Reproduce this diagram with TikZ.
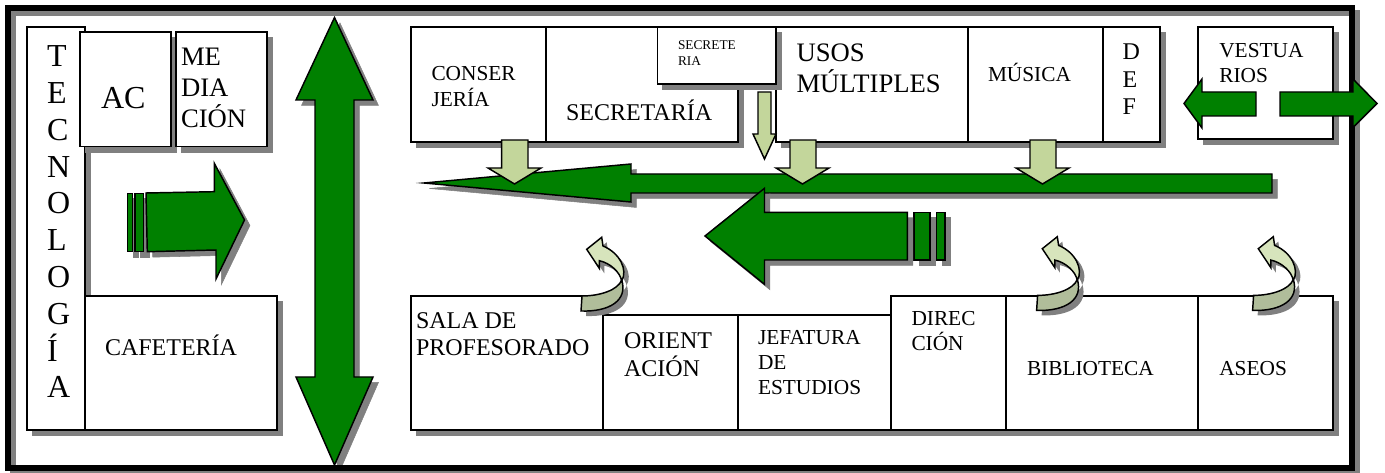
\documentclass[tikz,border=0pt]{standalone}
\usepackage{fontspec}
\setmainfont{Liberation Serif}
\usetikzlibrary{shadows}
\definecolor{shadowgray}{HTML}{808080}
\definecolor{darkgreen}{HTML}{008000}
\definecolor{palegreen}{HTML}{C3D69B}
\definecolor{curllight}{HTML}{D7E4BC}
\definecolor{curldark}{HTML}{B0BD9A}
\tikzset{
  dropshadow/.style={copy shadow={shadow xshift=4.1pt,shadow yshift=-4.1pt,fill=shadowgray,draw=shadowgray,opacity=1}},
  roombox/.style={draw=black,fill=white,line width=1.1pt,inner sep=0pt,outer sep=0pt,dropshadow},
  framebox/.style={draw=black,line width=4.5pt,inner sep=0pt,outer sep=0pt},
  greenarrow/.style={draw=black,fill=darkgreen,line width=1.1pt,miter limit=12,dropshadow},
  stripe/.style={draw=black,fill=darkgreen,line width=1.1pt,dropshadow},
  palearrow/.style={draw=black,fill=palegreen,line width=1.1pt},
  label/.style={inner sep=0pt,outer sep=0pt,anchor=base west,text=black}
}
\newcommand{\room}[5]{\node[roombox,minimum width=#4*0.75pt-#2*0.75pt,minimum height=#5*0.75pt-#3*0.75pt] (#1) at ({(#2+#4)/2},{(#3+#5)/2}) {};}
% name, x, first baseline, size pt, leading pt, lines
\newcommand{\lab}[6]{\node[label] (#1) at (#2,#3) {\vtop{\fontsize{#4}{#5}\selectfont\baselineskip=#5pt #6}};}
\newcommand{\dn}[4]{\draw[palearrow] (#1,140)--(#2,140)--(#2,168)--(#4,168)--({(#3+#4)/2},184)--(#3,168)--(#1,168)--cycle;}
\newcommand{\curl}[2]{%
  \begin{scope}[shift={(#1,#2)}]
    \fill[shadowgray,shift={(5,5)}] (601.7,237.3)--(586.7,249.3)--(599.3,268.3)--(599.3,260.7) .. controls (610,263) and (620,272) .. (621.7,281) .. controls (618,290) and (600,296) .. (582,296)--(581,311) .. controls (610,312) and (628,300) .. (621.7,280) .. controls (628,270) and (620,253) .. (603,246)--cycle;
    \draw[draw=black,fill=curldark,line width=1.1pt] (621.7,280) .. controls (618,290) and (600,296) .. (582,296)--(581,311) .. controls (610,312) and (628,300) .. (621.7,280)--cycle;
    \draw[draw=black,fill=curllight,line width=1.1pt] (601.7,237.3)--(586.7,249.3)--(599.3,268.3)--(599.3,260.7) .. controls (610,263) and (620,272) .. (621.7,281) .. controls (628,270) and (620,253) .. (603,246)--cycle;
  \end{scope}}
\begin{document}
\begin{tikzpicture}[x=0.75pt,y=-0.75pt]
\useasboundingbox (0,0) rectangle (1385,473);
% vertical double arrow (under the frame)
\draw[greenarrow] (334.5,17.5)--(373,100)--(354,100)--(354,377)--(373,377)--(334.5,465)--(296,377)--(315,377)--(315,100)--(296,100)--cycle;
% frame
\node[framebox,draw=shadowgray,minimum width=1344*0.75pt,minimum height=460*0.75pt] (frameshade) at (685,243) {};
\node[framebox,minimum width=1344*0.75pt,minimum height=460*0.75pt] (frame) at (680,238) {};
% rooms left
\room{tecno}{27}{27}{85}{430}
\room{ac}{80}{32}{171}{146.5}
\room{media}{176}{32}{267}{146.5}
\room{cafe}{85}{296}{277}{430}
% top row
\room{conser}{411}{27}{546}{142}
\room{secret}{546}{27}{738}{142}
\room{usos}{776}{27}{968}{142}
\room{musica}{968}{27}{1103}{142}
\room{def}{1103}{27}{1160}{142}
\room{secrete}{657.5}{27}{776}{84}
\room{vest}{1198}{27}{1333}{139}
% bottom row
\room{sala}{411}{296}{603}{430}
\room{orient}{603}{315}{738}{430}
\room{jefa}{738}{315}{891}{430}
\room{direc}{891}{296}{1006}{430}
\room{biblio}{1006}{296}{1198}{430}
\room{aseos}{1198}{296}{1333}{430}
% labels
\lab{ltecno}{47}{66.7}{24}{27.6}{\hbox{T}\hbox{E}\hbox{C}\hbox{N}\hbox{O}\hbox{L}\hbox{O}\hbox{G}\hbox{Í}\hbox{A}}
\lab{lac}{101}{109}{24}{27.6}{\hbox{AC}}
\lab{lmedia}{181}{65.7}{20}{23.2}{\hbox{ME}\hbox{DIA}\hbox{CIÓN}}
\lab{lcafe}{105}{356}{18}{20.7}{\hbox{CAFETERÍA}}
\lab{lconser}{431.5}{81}{16}{18.8}{\hbox{CONSER}\hbox{JERÍA}}
\lab{lsecret}{566}{121}{18}{20.7}{\hbox{SECRETARÍA}}
\lab{lsecrete}{678}{50}{10}{11.5}{\hbox{SECRETE}\hbox{RIA}}
\lab{lusos}{796.5}{61.7}{20}{23.2}{\hbox{USOS}\hbox{MÚLTIPLES}}
\lab{lmusica}{988}{81.7}{16}{18.4}{\hbox{MÚSICA}}
\lab{ldef}{1122.5}{60}{18}{20.6}{\hbox{D}\hbox{E}\hbox{F}}
\lab{lvest}{1219.3}{57.3}{16}{18.8}{\hbox{VESTUA}\hbox{RIOS}}
\lab{lsala}{416}{328.3}{18}{20.6}{\hbox{SALA DE}\hbox{PROFESORADO}}
\lab{lorient}{624}{349}{18}{20.6}{\hbox{ORIENT}\hbox{ACIÓN}}
\lab{ljefa}{758}{345}{16}{18.75}{\hbox{JEFATURA}\hbox{DE}\hbox{ESTUDIOS}}
\lab{ldirec}{911.5}{325.7}{16}{18.75}{\hbox{DIREC}\hbox{CIÓN}}
\lab{lbiblio}{1027}{375.7}{16}{18.4}{\hbox{BIBLIOTECA}}
\lab{laseos}{1219.3}{375.7}{16}{18.4}{\hbox{ASEOS}}
% right arrow with stripes
\draw[stripe] (127.7,193.3) rectangle (132.7,251.7);
\draw[stripe] (135,193.3) rectangle (143.5,251.7);
\draw[greenarrow] (146,193)--(214.3,191.7)--(214.3,163.3)--(244.5,220)--(216,279)--(216,250)--(147.3,251.7)--cycle;
% long arrow
\draw[greenarrow] (424,183)--(631,164)--(631,174)--(1272,174)--(1272,193)--(631,193)--(631,202)--cycle;
% middle arrow with stripes
\draw[stripe] (914,212.3) rectangle (930,260);
\draw[stripe] (936.7,212.3) rectangle (945,260);
\draw[greenarrow] (705,236)--(764.5,188.3)--(764.5,212.3)--(907.3,212.3)--(907.3,260)--(764.5,260)--(764.5,284.3)--cycle;
% pale down arrows
\dn{501.7}{528}{488}{541}
\dn{790}{816}{776}{829}
\dn{1030}{1056}{1016}{1069}
\draw[palearrow] (758,92)--(771,92)--(771,134)--(776,134)--(764.5,159)--(753,134)--(758,134)--cycle;
% vestuarios arrows
\draw[draw=black,fill=darkgreen,line width=1.1pt] (1184,103.5)--(1202,79)--(1202,92)--(1256,92)--(1256,116)--(1202,116)--(1202,128)--cycle;
\draw[draw=black,fill=darkgreen,line width=1.1pt] (1280,92)--(1353,92)--(1353,79)--(1377,103.5)--(1353,127.5)--(1353,116)--(1280,116)--cycle;
% curved arrows
\curl{0}{0}
\curl{455.6}{-0.6}
\curl{671.6}{-0.6}
\end{tikzpicture}
\end{document}
